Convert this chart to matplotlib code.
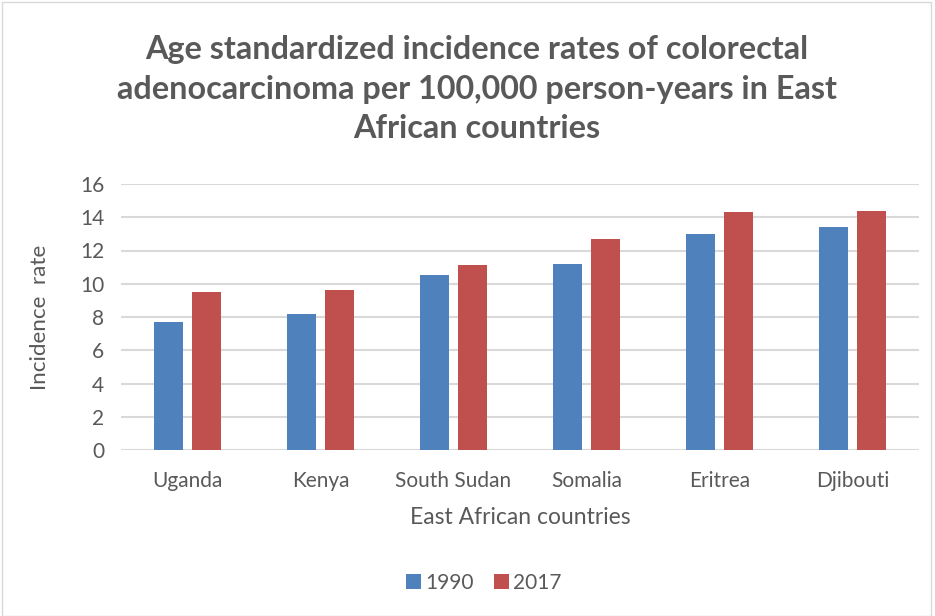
import numpy as np
import matplotlib.pyplot as plt
from matplotlib.patches import Rectangle

# Datos
paises = ["Uganda", "Kenya", "South Sudan", "Somalia", "Eritrea", "Djibouti"]
tasas_1990 = [7.7, 8.2, 10.5, 11.2, 13.0, 13.4]
tasas_2017 = [9.5, 9.6, 11.1, 12.7, 14.3, 14.4]
ticks_y = [0, 2, 4, 6, 8, 10, 12, 14, 16]

AZUL = "#4f81bd"
ROJO = "#c0504d"
GRIS_TEXTO = "#595959"
GRIS_GRID = "#d9d9d9"

plt.rcParams["font.family"] = ["Lato", "DejaVu Sans"]

fig = plt.figure(figsize=(9.35, 6.16), dpi=100)
W, H = 935, 616
# área del gráfico en píxeles: x 121-919, y 184-450
ax = fig.add_axes([121 / W, 1 - 450 / H, (919 - 121) / W, (450 - 184) / H])

x = np.arange(len(paises))
ancho = 0.225
ax.bar(x - 0.143, tasas_1990, ancho, color=AZUL, label="1990", zorder=3)
ax.bar(x + 0.143, tasas_2017, ancho, color=ROJO, label="2017", zorder=3)

ax.set_xlim(-0.5, len(paises) - 0.5)
ax.set_ylim(0, 16)
ax.set_yticks(ticks_y)
ax.set_xticks(x)
ax.set_xticklabels(paises)
ax.yaxis.grid(True, color=GRIS_GRID, linewidth=1.5, zorder=0)
ax.tick_params(axis="both", length=0, labelsize=15, colors=GRIS_TEXTO)
ax.tick_params(axis="y", pad=12)
ax.tick_params(axis="x", pad=15)
for lado in ["top", "right", "left", "bottom"]:
    ax.spines[lado].set_visible(False)

ax.set_xlabel("East African countries", fontsize=16.5, color=GRIS_TEXTO, labelpad=12)
ax.set_ylabel("Incidence  rate", fontsize=16.2, color=GRIS_TEXTO, labelpad=22)

fig.text(477 / W, 1 - 89 / H,
         "Age standardized incidence rates of colorectal\n"
         "adenocarcinoma per 100,000 person-years in East\n"
         "African countries",
         ha="center", va="center", fontsize=23.3, fontweight="bold",
         color=GRIS_TEXTO, linespacing=1.45)

fig.legend(loc="center", bbox_to_anchor=(484 / W, 1 - 583 / H), ncol=2,
           frameon=False, fontsize=15, labelcolor=GRIS_TEXTO,
           handlelength=0.7, handleheight=0.7, handletextpad=0.2,
           columnspacing=1.0)

# borde del gráfico
fig.patches.append(Rectangle((2 / W, 0), (W - 6) / W, 1 - 2 / H,
                             transform=fig.transFigure, fill=False,
                             edgecolor=GRIS_GRID, linewidth=1))

fig.savefig("out.png", dpi=100)
